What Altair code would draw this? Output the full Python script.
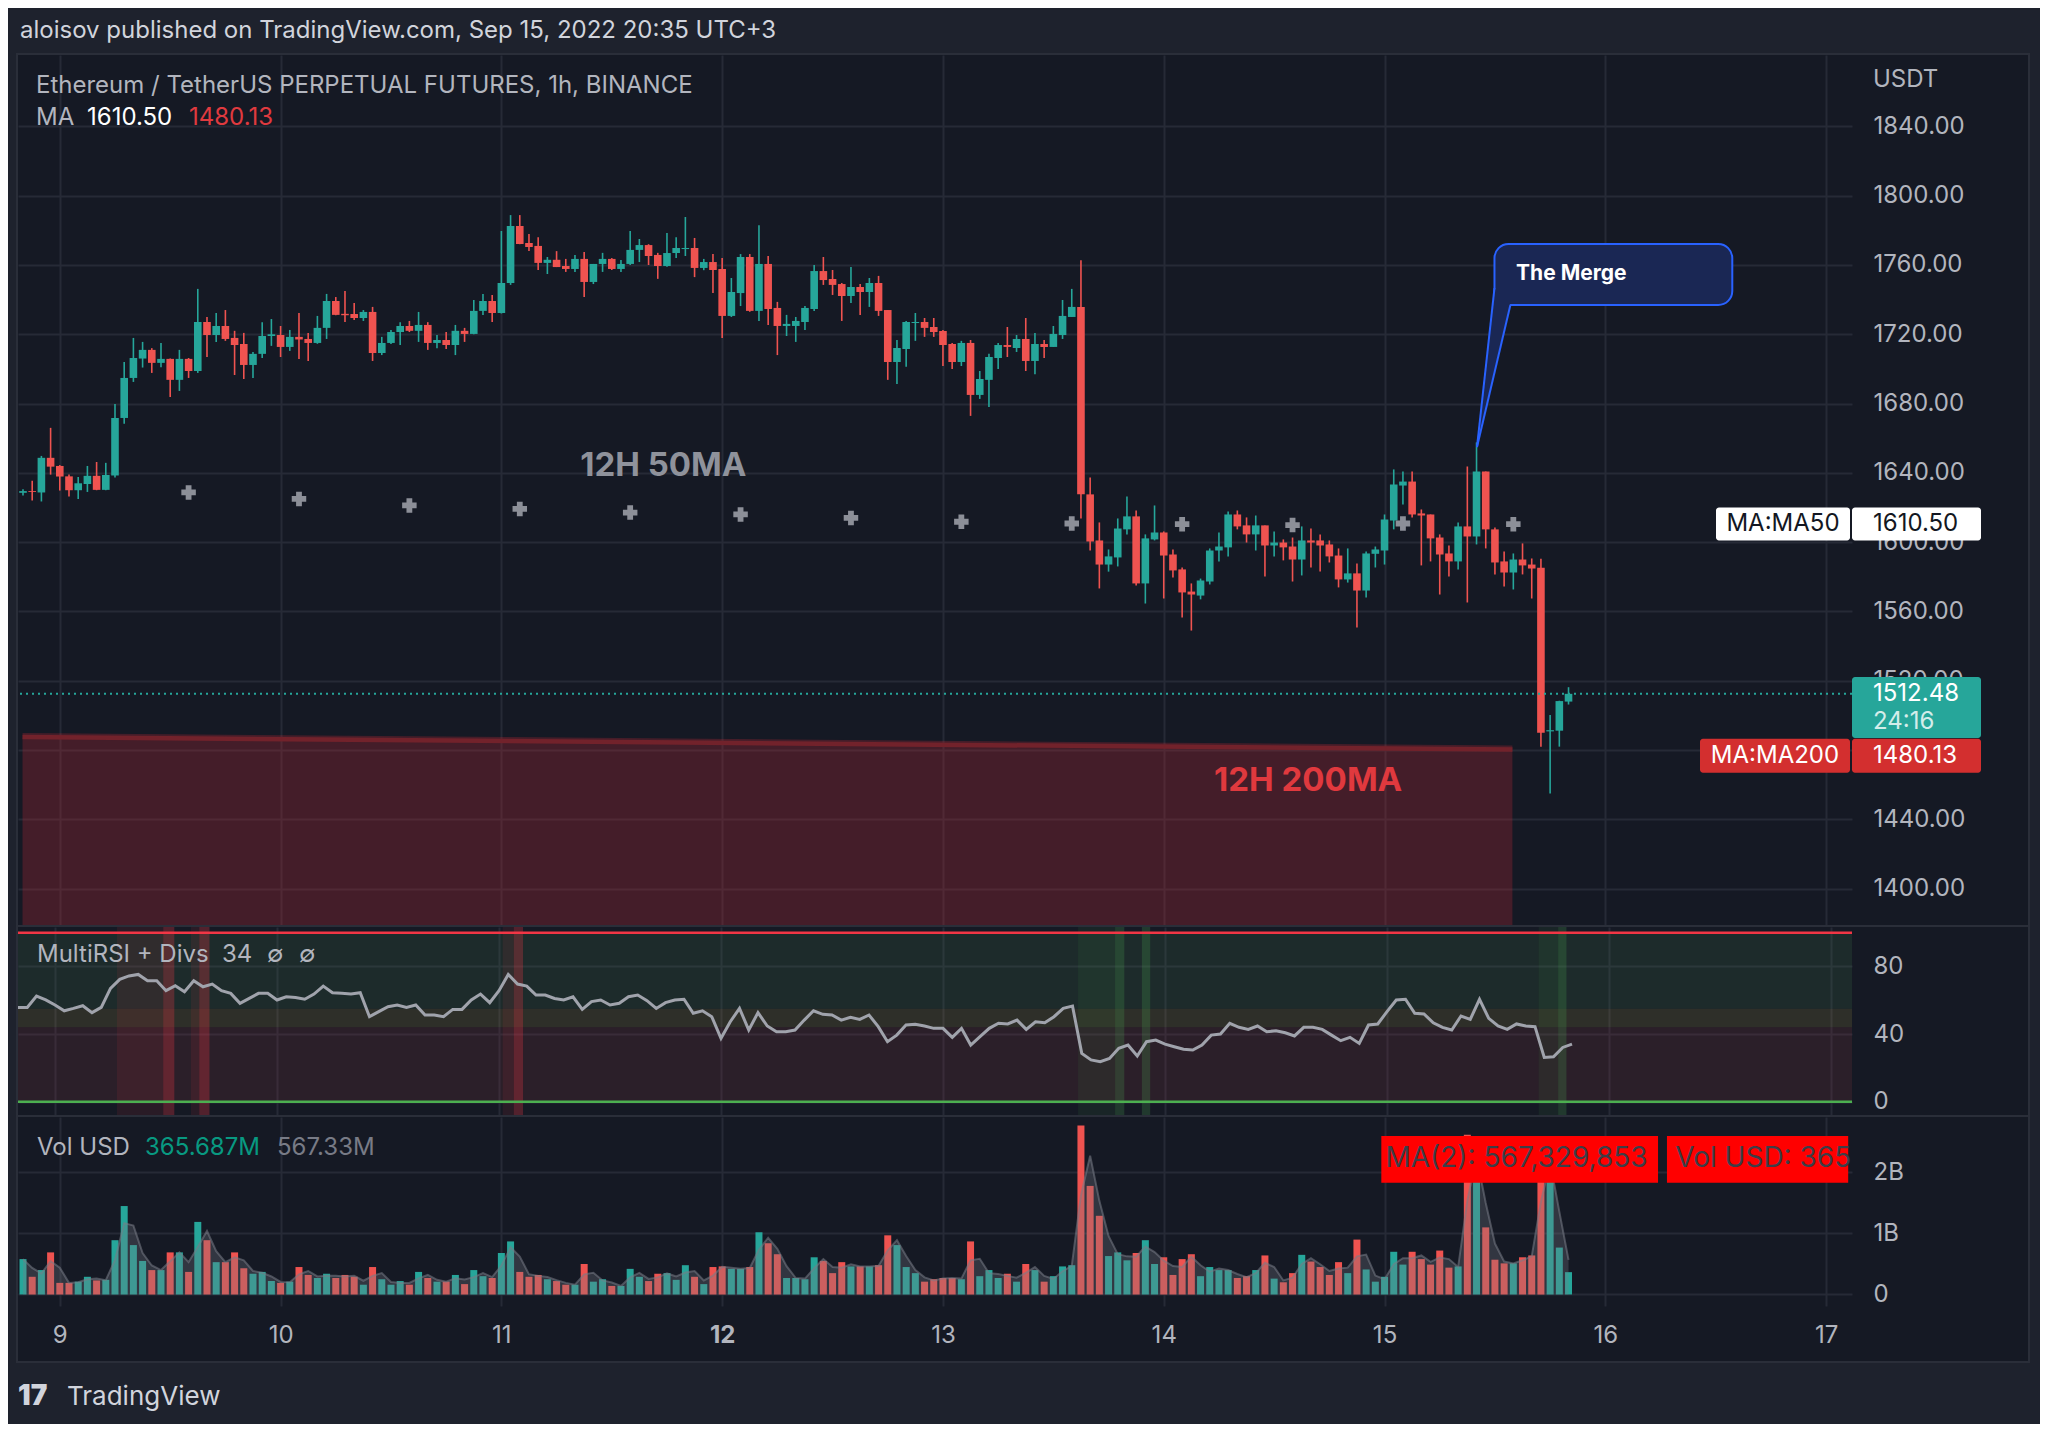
import altair as alt
import pandas as pd

FONT = "Inter"

# ---------------------------------------------------------------- data
# 1h candles, hour index counted from Sep 9 00:00 (UTC+3); first candle = -4
FIRST_HOUR = -4
OPEN = [
    1628.5, 1629.5, 1628.7, 1648.7, 1644.0, 1638.0, 1630.0, 1633.6, 1638.3, 1630.2, 1638.5, 1671.7,
    1694.8, 1706.0, 1711.0, 1703.5, 1705.8, 1693.7, 1705.8, 1698.8, 1727.1, 1719.6, 1724.8, 1717.9,
    1714.4, 1702.3, 1708.7, 1719.0, 1719.6, 1712.7, 1718.5, 1717.3, 1715.0, 1723.7, 1739.2, 1731.8,
    1731.7, 1729.4, 1732.9, 1709.2, 1715.0, 1721.3, 1724.8, 1722.0, 1725.4, 1715.0, 1716.7, 1713.8,
    1722.0, 1720.2, 1733.5, 1739.2, 1732.3, 1749.6, 1782.5, 1772.7, 1771.0, 1761.2, 1763.0, 1759.4,
    1757.7, 1763.5, 1750.2, 1760.6, 1763.5, 1757.7, 1760.6, 1768.7, 1771.5, 1765.8, 1759.4, 1766.9,
    1769.2, 1769.8, 1758.3, 1761.7, 1757.7, 1730.6, 1743.8, 1764.6, 1733.5, 1760.6, 1735.2, 1724.8,
    1724.8, 1727.1, 1734.6, 1756.5, 1751.9, 1749.0, 1742.1, 1747.3, 1744.4, 1749.6, 1734.0, 1704.0,
    1711.5, 1726.5, 1727.1, 1724.2, 1721.9, 1714.4, 1704.0, 1715.0, 1685.0, 1693.7, 1706.3, 1713.8,
    1712.1, 1717.3, 1704.6, 1714.4, 1712.7, 1719.6, 1730.0, 1735.8, 1627.6, 1601.0, 1587.1, 1591.2,
    1607.4, 1614.9, 1576.2, 1601.6, 1605.6, 1592.9, 1584.3, 1571.5, 1569.2, 1577.3, 1595.2, 1597.0,
    1616.0, 1609.7, 1604.5, 1609.7, 1598.1, 1599.8, 1597.5, 1590.0, 1601.0, 1601.0, 1598.7, 1592.3,
    1578.5, 1582.0, 1572.1, 1593.3, 1595.2, 1612.5, 1632.7, 1635.0, 1616.6, 1616.0, 1602.7, 1593.5,
    1588.9, 1609.1, 1603.3, 1640.8, 1607.4, 1588.9, 1582.5, 1590.0, 1587.1, 1585.2, 1490.8, 1491.2, 1508.0,
]
HIGH = [
    1630.5, 1635.4, 1649.8, 1666.0, 1644.5, 1639.0, 1637.7, 1644.0, 1646.3, 1645.8, 1679.8, 1704.0,
    1717.9, 1715.6, 1712.0, 1715.0, 1706.0, 1711.0, 1706.3, 1746.2, 1730.0, 1732.3, 1734.0, 1722.0,
    1720.8, 1709.8, 1727.0, 1728.8, 1724.8, 1722.5, 1732.3, 1720.8, 1730.6, 1743.3, 1741.5, 1745.0,
    1738.0, 1734.0, 1735.8, 1718.5, 1722.5, 1727.0, 1727.7, 1732.9, 1727.0, 1719.6, 1721.3, 1725.4,
    1723.7, 1739.8, 1743.3, 1742.7, 1779.6, 1788.8, 1788.8, 1777.9, 1776.0, 1764.6, 1768.0, 1763.5,
    1765.8, 1767.5, 1760.6, 1767.0, 1764.0, 1762.9, 1779.6, 1775.0, 1772.0, 1767.0, 1778.5, 1776.0,
    1787.7, 1775.6, 1763.5, 1766.3, 1764.0, 1752.5, 1766.3, 1766.3, 1783.0, 1765.2, 1738.7, 1731.2,
    1730.0, 1736.3, 1760.0, 1764.6, 1757.1, 1749.6, 1758.8, 1749.0, 1752.5, 1753.7, 1734.0, 1716.7,
    1727.7, 1732.3, 1729.4, 1729.4, 1722.5, 1715.0, 1716.2, 1716.7, 1698.8, 1708.7, 1715.0, 1724.2,
    1719.6, 1729.4, 1720.8, 1716.7, 1724.8, 1739.8, 1746.2, 1762.7, 1637.4, 1611.4, 1595.8, 1613.7,
    1626.4, 1618.3, 1604.5, 1621.2, 1606.2, 1595.8, 1585.4, 1576.2, 1579.0, 1596.4, 1605.6, 1617.7,
    1618.3, 1614.3, 1615.4, 1609.7, 1606.2, 1601.6, 1602.7, 1609.1, 1607.9, 1604.5, 1601.0, 1596.4,
    1596.4, 1587.7, 1594.6, 1597.5, 1616.0, 1642.0, 1640.8, 1640.8, 1618.9, 1616.0, 1604.5, 1598.1,
    1611.4, 1643.7, 1657.6, 1640.8, 1608.5, 1594.6, 1593.5, 1599.3, 1590.6, 1590.4, 1500.2, 1508.5, 1516.3,
]
LOW = [
    1627.0, 1624.0, 1623.5, 1639.0, 1629.8, 1626.4, 1625.0, 1629.0, 1630.0, 1630.0, 1637.3, 1668.3,
    1692.5, 1700.8, 1697.7, 1701.0, 1683.8, 1687.3, 1694.8, 1697.7, 1706.9, 1715.6, 1716.2, 1696.5,
    1694.2, 1694.8, 1706.3, 1713.3, 1706.9, 1710.4, 1705.8, 1704.6, 1714.5, 1717.3, 1731.0, 1727.1,
    1728.3, 1727.7, 1704.6, 1708.0, 1714.4, 1713.8, 1721.3, 1715.6, 1711.0, 1712.0, 1711.5, 1708.0,
    1715.6, 1720.0, 1731.2, 1727.1, 1732.0, 1748.5, 1772.0, 1768.0, 1757.1, 1754.8, 1758.8, 1756.0,
    1756.0, 1741.5, 1749.0, 1756.0, 1757.1, 1756.0, 1760.0, 1761.7, 1760.0, 1752.0, 1759.0, 1764.0,
    1765.2, 1753.0, 1757.0, 1743.8, 1717.9, 1730.0, 1736.3, 1733.0, 1727.7, 1725.4, 1708.0, 1719.0,
    1715.6, 1722.5, 1733.5, 1748.5, 1742.7, 1727.7, 1738.1, 1731.2, 1735.8, 1730.6, 1693.7, 1691.3,
    1701.2, 1716.2, 1718.5, 1718.5, 1701.7, 1700.0, 1701.7, 1672.9, 1682.7, 1678.0, 1700.0, 1706.9,
    1709.8, 1698.8, 1697.0, 1706.3, 1712.7, 1717.3, 1730.0, 1613.7, 1595.2, 1573.3, 1583.0, 1586.0,
    1604.5, 1575.0, 1564.6, 1601.0, 1567.5, 1579.6, 1556.5, 1549.0, 1567.0, 1575.6, 1588.9, 1591.8,
    1607.4, 1599.8, 1595.2, 1580.2, 1591.8, 1589.5, 1577.3, 1580.8, 1585.4, 1583.1, 1588.3, 1573.9,
    1576.7, 1550.8, 1568.1, 1585.4, 1587.1, 1607.4, 1621.8, 1614.3, 1586.6, 1588.9, 1569.8, 1580.2,
    1584.3, 1565.2, 1598.7, 1596.4, 1581.4, 1574.4, 1572.7, 1581.4, 1567.5, 1482.0, 1455.0, 1482.0, 1506.3,
]
CLOSE = [
    1629.5, 1629.0, 1648.7, 1643.6, 1637.9, 1630.0, 1634.0, 1638.3, 1630.2, 1638.8, 1671.7, 1694.8,
    1706.3, 1711.0, 1703.5, 1705.8, 1693.7, 1705.8, 1698.8, 1727.1, 1719.6, 1724.8, 1717.3, 1713.8,
    1702.3, 1708.7, 1719.0, 1720.0, 1712.7, 1718.5, 1717.0, 1715.0, 1723.7, 1739.2, 1731.2, 1731.0,
    1729.4, 1732.9, 1709.2, 1715.0, 1721.3, 1724.8, 1722.0, 1725.4, 1715.0, 1716.7, 1713.8, 1722.0,
    1720.2, 1733.5, 1739.2, 1732.3, 1749.6, 1782.5, 1772.1, 1770.4, 1761.2, 1763.0, 1758.8, 1757.7,
    1763.5, 1750.2, 1760.6, 1763.5, 1757.7, 1760.6, 1768.7, 1771.5, 1765.2, 1759.4, 1766.9, 1769.8,
    1769.8, 1758.3, 1761.7, 1757.1, 1730.6, 1744.4, 1764.6, 1733.5, 1760.6, 1734.6, 1724.8, 1726.0,
    1727.7, 1735.2, 1756.5, 1751.3, 1748.5, 1742.1, 1747.3, 1744.4, 1749.6, 1733.5, 1704.0, 1712.1,
    1727.1, 1727.1, 1723.7, 1721.3, 1713.8, 1704.0, 1715.0, 1685.0, 1694.2, 1706.9, 1713.8, 1712.7,
    1717.3, 1704.6, 1714.4, 1712.7, 1720.2, 1730.6, 1735.8, 1627.6, 1600.4, 1587.1, 1591.8, 1607.9,
    1614.9, 1576.2, 1602.2, 1605.6, 1592.3, 1583.7, 1571.0, 1569.8, 1577.9, 1595.2, 1597.5, 1616.0,
    1609.1, 1604.5, 1609.7, 1598.1, 1599.8, 1597.0, 1590.0, 1601.0, 1599.8, 1598.1, 1591.8, 1578.5,
    1582.0, 1572.1, 1593.5, 1595.8, 1613.1, 1633.3, 1635.0, 1616.0, 1615.4, 1602.2, 1592.9, 1588.9,
    1609.1, 1603.3, 1640.8, 1607.4, 1588.3, 1582.5, 1590.0, 1586.6, 1584.8, 1490.0, 1491.5, 1508.3, 1512.48,
]
VOLUME_B = [  # volume, billions of USD
    0.58, 0.29, 0.40, 0.69, 0.19, 0.19, 0.21, 0.29, 0.23, 0.24, 0.89, 1.45,
    0.81, 0.55, 0.40, 0.40, 0.69, 0.69, 0.37, 1.19, 0.89, 0.53, 0.53, 0.69,
    0.43, 0.34, 0.37, 0.22, 0.19, 0.21, 0.45, 0.32, 0.27, 0.34, 0.27, 0.32,
    0.29, 0.16, 0.45, 0.25, 0.16, 0.22, 0.16, 0.37, 0.27, 0.21, 0.21, 0.32,
    0.17, 0.40, 0.30, 0.27, 0.68, 0.87, 0.37, 0.29, 0.32, 0.25, 0.22, 0.16,
    0.16, 0.50, 0.21, 0.25, 0.14, 0.14, 0.42, 0.29, 0.22, 0.34, 0.35, 0.24,
    0.48, 0.29, 0.17, 0.45, 0.46, 0.42, 0.42, 0.45, 1.02, 0.84, 0.66, 0.27,
    0.27, 0.25, 0.61, 0.55, 0.35, 0.53, 0.46, 0.46, 0.46, 0.48, 0.97, 0.81,
    0.45, 0.35, 0.21, 0.25, 0.27, 0.27, 0.25, 0.87, 0.30, 0.40, 0.27, 0.34,
    0.21, 0.50, 0.40, 0.21, 0.30, 0.46, 0.48, 2.77, 1.78, 1.29, 0.63, 0.69,
    0.56, 0.68, 0.89, 0.50, 0.61, 0.32, 0.58, 0.66, 0.30, 0.45, 0.40, 0.40,
    0.27, 0.30, 0.40, 0.64, 0.26, 0.20, 0.35, 0.65, 0.54, 0.45, 0.32, 0.53,
    0.35, 0.90, 0.41, 0.21, 0.29, 0.70, 0.49, 0.70, 0.58, 0.49, 0.72, 0.44,
    0.46, 2.62, 1.90, 1.10, 0.57, 0.51, 0.51, 0.61, 0.64, 2.40, 1.95, 0.769, 0.366,
]
RSI = [
    55.8, 55.8, 62.5, 60.2, 57.2, 53.8, 55.2, 56.8, 52.7, 55.8, 67.1, 72.4,
    74.4, 75.3, 71.6, 71.6, 65.7, 68.6, 65.1, 71.6, 68.0, 69.6, 65.7, 64.1,
    58.2, 61.1, 64.1, 64.1, 60.2, 62.1, 61.7, 60.6, 63.7, 68.4, 64.5, 64.1,
    63.7, 64.5, 50.3, 53.3, 56.2, 57.2, 55.8, 57.2, 51.3, 51.3, 50.3, 54.6,
    54.6, 60.2, 63.7, 58.6, 65.7, 75.3, 69.6, 68.4, 63.1, 63.1, 61.1, 60.2,
    62.1, 54.6, 59.2, 60.2, 57.2, 58.2, 62.1, 63.1, 59.8, 55.2, 58.6, 60.2,
    60.6, 52.3, 53.8, 50.3, 37.5, 47.3, 55.2, 42.4, 52.7, 44.8, 41.4, 41.4,
    42.4, 48.3, 53.8, 51.7, 51.3, 48.3, 49.9, 48.7, 51.3, 44.4, 35.5, 39.4,
    45.4, 45.8, 44.8, 43.4, 43.4, 38.1, 43.4, 33.5, 38.5, 43.4, 46.4, 46.0,
    48.3, 42.8, 47.3, 46.7, 50.3, 55.2, 56.6, 28.6, 24.7, 23.7, 25.6, 31.6,
    33.5, 27.0, 35.5, 36.5, 34.1, 32.5, 31.0, 30.6, 33.5, 39.4, 40.0, 46.4,
    44.0, 42.8, 44.8, 41.4, 42.0, 40.8, 38.9, 44.0, 44.0, 42.8, 39.4, 36.1,
    38.1, 34.5, 45.4, 46.0, 53.3, 60.2, 60.6, 52.3, 51.9, 46.7, 44.0, 42.4,
    50.7, 48.7, 60.6, 49.3, 44.8, 42.8, 46.0, 44.8, 44.4, 26.2, 26.6, 32.1, 34.1,
]
HOURS = list(range(FIRST_HOUR, FIRST_HOUR + len(OPEN)))

MA50_12H_HOURS = [14, 26, 38, 50, 62, 74, 86, 98, 110, 122, 134, 146, 158]
MA50_12H = [1628.7, 1625.0, 1621.2, 1619.2, 1617.1, 1616.0, 1614.0, 1611.8,
            1610.8, 1610.4, 1609.9, 1610.8, 1610.4]
MA200_12H_HOURS = [-4.05, 157.9]
MA200_12H = [1487.6, 1480.3]

DIV_START = [6.7, 11.7, 14.7, 15.6, 48.4, 49.6, 110.6, 114.6, 117.5, 160.4, 162.5]
DIV_END = [11.7, 12.9, 15.6, 16.7, 49.6, 50.6, 114.6, 115.6, 118.4, 162.5, 163.4]
DIV_KIND = ["bear", "bear", "bear", "bear", "bear", "bear", "bull", "bull", "bull", "bull", "bull"]
DIV_ALPHA = [0.09, 0.28, 0.09, 0.28, 0.09, 0.28, 0.08, 0.22, 0.22, 0.08, 0.22]

RSI_ZONE_LO = [0, 44, 55]
RSI_ZONE_HI = [44, 55, 100]
RSI_ZONE_COLOR = ["#883742", "#978742", "#42734c"]

DAY_TICKS = [0, 24, 48, 72, 96, 120, 144, 168, 192]
DAY_LABELS = ["9", "10", "11", "12", "13", "14", "15", "16", "17"]
PRICE_TICKS = [1400, 1440, 1480, 1520, 1560, 1600, 1640, 1680, 1720, 1760, 1800, 1840]
PRICE_TICKS_HIDDEN = [1480]          # covered by the MA:MA200 price tag
RSI_TICKS = [0, 40, 80]
VOL_TICKS = [0, 1, 2]
VOL_TICK_LABELS = ["0", "1B", "2B"]

LAST_PRICE = 1512.48
MA50_NOW = 1610.50
MA200_NOW = 1480.13

# ---------------------------------------------------------------- style
BG = "#151924"
OUTER = "#1e222d"
BORDER = "#2a2e39"
GRID = "#262a36"
TXT = "#d1d4dc"
TXT2 = "#b2b5be"
UP = "#26a69a"
DOWN = "#ef5350"
VOL_UP = "#0b796a"
VOL_DOWN = "#b02d3b"
FS = 24
W, PH, RH, VH = 1834, 870, 188, 189

XS = alt.Scale(domain=[-4.0, 194.27], nice=False, zero=False)
PS = alt.Scale(domain=[1379.05, 1881.2], nice=False, zero=False)
RS = alt.Scale(domain=[-7.87, 103.37], nice=False, zero=False)
VS = alt.Scale(domain=[-0.189, 2.91], nice=False, zero=False)

cdf = pd.DataFrame({"h": HOURS, "open": OPEN, "high": HIGH, "low": LOW,
                    "close": CLOSE, "vol": VOLUME_B, "rsi": RSI})
cdf["dir"] = ["up" if c >= o else "down" for o, c in zip(OPEN, CLOSE)]
ONE = pd.DataFrame({"k": [0]})


def expr_map(ticks, labels):
    e = "''"
    for t, l in reversed(list(zip(ticks, labels))):
        e = f"datum.value == {t} ? '{l}' : " + e
    return e


def px_rect(x, x2, y, y2, **mk):
    return alt.Chart(ONE).mark_rect(**mk).encode(
        x=alt.value(x), x2=alt.value(x2), y=alt.value(y), y2=alt.value(y2))


def px_text(txt, x, y, size=FS, color=TXT2, **mk):
    return alt.Chart(ONE).mark_text(text=txt, align=mk.pop("align", "left"), baseline="middle",
                                    font=FONT, fontSize=size, color=color, **mk).encode(
        x=alt.value(x), y=alt.value(y))


xgrid = alt.Axis(values=DAY_TICKS, labels=False, ticks=False, domain=False, grid=True,
                 gridColor=GRID, gridWidth=2, title=None)


def right_axis(values, fmt=None, expr=None):
    kw = dict(orient="right", values=values, labelAlign="left", labelBaseline="middle",
              labelPadding=21, labelFontSize=FS, labelColor=TXT2, labelFont=FONT,
              domain=False, ticks=False, grid=True, gridColor=GRID, gridWidth=2,
              title=None, labelOverlap=False, labelFlush=False)
    if fmt:
        kw["format"] = fmt
    if expr:
        kw["labelExpr"] = expr
    return alt.Axis(**kw)


price_label_expr = " || ".join(f"datum.value == {v}" for v in PRICE_TICKS_HIDDEN) + \
    " ? '' : format(datum.value, '.2f')"

dir_color = alt.Color("dir:N", scale=alt.Scale(domain=["up", "down"], range=[UP, DOWN]), legend=None)

# ---------------------------------------------------------------- price pane
frame = [
    px_rect(-10, 2022, -47, 0, color=OUTER),
    px_rect(-10, 2022, 1306, 1369, color=OUTER),
    px_rect(-10, 0, -47, 1369, color=OUTER),
    px_rect(2010, 2022, -47, 1369, color=OUTER),
]

wicks = alt.Chart(cdf).mark_rule(strokeWidth=1.6, clip=True).encode(
    x=alt.X("h:Q", scale=XS, axis=xgrid),
    y=alt.Y("low:Q", scale=PS, axis=right_axis(PRICE_TICKS, expr=price_label_expr)),
    y2="high:Q", color=dir_color)
bodies = alt.Chart(cdf).mark_bar(size=7.6, clip=True).encode(
    x=alt.X("h:Q", scale=XS), y=alt.Y("open:Q", scale=PS), y2="close:Q", color=dir_color)

ma200df = pd.DataFrame({"h": MA200_12H_HOURS, "p": MA200_12H})
ma200df["top"] = ma200df["p"] + 2.3
ma200_area = alt.Chart(ma200df).mark_area(color="#b22834", opacity=0.3, clip=True).encode(
    x=alt.X("h:Q", scale=XS), y=alt.Y("top:Q", scale=PS), y2=alt.value(PH))
ma200_line = alt.Chart(ma200df).mark_line(color="#72222b", strokeWidth=4.5, clip=True).encode(
    x=alt.X("h:Q", scale=XS), y=alt.Y("p:Q", scale=PS))

last_line = alt.Chart(ONE).mark_rule(color=UP, strokeWidth=2, strokeDash=[2, 4]).encode(
    y=alt.YDatum(LAST_PRICE, scale=PS))

ma50df = pd.DataFrame({"h": MA50_12H_HOURS, "p": MA50_12H})
ma50_pts = alt.Chart(ma50df).mark_point(shape="cross", filled=True, size=210, color="#8c8f98",
                                        opacity=1, clip=True).encode(
    x=alt.X("h:Q", scale=XS), y=alt.Y("p:Q", scale=PS))

lbl_df = pd.DataFrame({"h": [65.6, 135.7], "p": [1644.0, 1462.1],
                       "t": ["12H 50MA", "12H 200MA"], "c": ["#8f929b", "#e0393e"]})
ma_labels = alt.Chart(lbl_df).mark_text(font=FONT, fontSize=33, fontWeight="bold",
                                        align="center", baseline="middle").encode(
    x=alt.X("h:Q", scale=XS), y=alt.Y("p:Q", scale=PS),
    text="t:N", color=alt.Color("c:N", scale=None))

# "The Merge" callout, anchored in chart coordinates
box = alt.Chart(ONE).mark_rect(fill="#1a2754", stroke="#2962ff", strokeWidth=2,
                               cornerRadius=14).encode(
    x=alt.XDatum(155.95, scale=XS), x2=alt.X2Datum(181.8),
    y=alt.YDatum(1772.1, scale=PS), y2=alt.Y2Datum(1736.9))
tail_df = pd.DataFrame({"h": [154.05, 155.95, 157.68], "top": [1654.9, 1746.6, 1736.9],
                        "bot": [1654.9, 1697.8, 1736.9]})
tail = alt.Chart(tail_df).mark_area(color="#1a2754", opacity=1).encode(
    x=alt.X("h:Q", scale=XS), y=alt.Y("top:Q", scale=PS), y2="bot:Q")
tail_lines_df = pd.DataFrame({"h": [154.05, 155.95, 154.05, 157.68],
                              "p": [1654.9, 1746.6, 1654.9, 1736.9], "g": [0, 0, 1, 1]})
tail_lines = alt.Chart(tail_lines_df).mark_line(color="#2962ff", strokeWidth=2).encode(
    x=alt.X("h:Q", scale=XS), y=alt.Y("p:Q", scale=PS), detail="g:N")
merge_txt = alt.Chart(ONE).mark_text(text="The Merge", font=FONT, fontSize=21, fontWeight="bold",
                                     color="#ffffff", align="left", baseline="middle").encode(
    x=alt.XDatum(158.3, scale=XS), y=alt.YDatum(1754.6, scale=PS))


def price_tag(value, x, x2, fill, y_off, y2_off, radius=3):
    return alt.Chart(ONE).mark_rect(fill=fill, cornerRadius=radius, yOffset=y_off,
                                    y2Offset=y2_off).encode(
        x=alt.value(x), x2=alt.value(x2),
        y=alt.YDatum(value, scale=PS), y2=alt.Y2Datum(value))


def tag_text(txt, value, x, color, align="left", y_off=0, opacity=1.0):
    return alt.Chart(ONE).mark_text(text=txt, font=FONT, fontSize=FS, color=color, align=align,
                                    baseline="middle", yOffset=y_off, opacity=opacity).encode(
        x=alt.value(x), y=alt.YDatum(value, scale=PS))


tags = [
    price_tag(MA50_NOW, 1698, 1832, "#ffffff", -16.5, 16.5),
    price_tag(MA50_NOW, 1834, 1963, "#ffffff", -16.5, 16.5),
    tag_text("MA:MA50", MA50_NOW, 1765, "#131722", align="center"),
    tag_text(f"{MA50_NOW:.2f}", MA50_NOW, 1855, "#131722"),
    price_tag(LAST_PRICE, 1834, 1963, UP, -16.8, 44.2),
    tag_text(f"{LAST_PRICE:.2f}", LAST_PRICE, 1855, "#ffffff"),
    tag_text("24:16", LAST_PRICE, 1855, "#ffffff", y_off=28, opacity=0.8),
    price_tag(MA200_NOW, 1682, 1832, "#d32f2f", -11, 23),
    price_tag(MA200_NOW, 1834, 1963, "#d32f2f", -11, 23),
    tag_text("MA:MA200", MA200_NOW, 1757, "#ffffff", align="center", y_off=6),
    tag_text(f"{MA200_NOW:.2f}", MA200_NOW, 1855, "#ffffff", y_off=6),
]

price_texts = [
    px_text("aloisov published on TradingView.com, Sep 15, 2022 20:35 UTC+3", 2, -24, color=TXT),
    px_text("Ethereum / TetherUS PERPETUAL FUTURES, 1h, BINANCE", 18, 31),
    px_text("MA", 18, 63),
    px_text(f"{MA50_NOW:.2f}", 69, 63, color="#ffffff"),
    px_text(f"{MA200_NOW:.2f}", 171, 63, color="#e03a3f"),
    px_text("USDT", 1855, 25),
    px_text("17", 0, 1342, size=28, color=TXT, fontWeight=900),
    px_text("TradingView", 49, 1342, size=26, color=TXT),
]

border = px_rect(-1, 2011, -1, 1307, filled=False, stroke=BORDER, strokeWidth=2)
sep1 = px_rect(0, 2010, 870, 872, color=BORDER)

price = alt.layer(
    wicks, *frame, ma200_area, ma200_line, bodies, last_line, ma50_pts, ma_labels,
    box, tail, tail_lines, merge_txt, *tags, *price_texts, sep1, border,
).properties(width=W, height=PH)

# ---------------------------------------------------------------- RSI pane
zones = pd.DataFrame({"lo": RSI_ZONE_LO, "hi": RSI_ZONE_HI, "c": RSI_ZONE_COLOR})
rsi_zones = alt.Chart(zones).mark_rect(opacity=0.2).encode(
    x=alt.value(0), x2=alt.value(W),
    y=alt.Y("lo:Q", scale=RS, axis=right_axis(RSI_TICKS)), y2="hi:Q",
    color=alt.Color("c:N", scale=None))
divdf = pd.DataFrame({"s": DIV_START, "e": DIV_END,
                      "c": ["#f23645" if k == "bear" else "#4caf50" for k in DIV_KIND],
                      "a": DIV_ALPHA})
div_bands = alt.Chart(divdf).mark_rect(clip=True).encode(
    x=alt.X("s:Q", scale=XS, axis=xgrid), x2="e:Q", y=alt.value(-4), y2=alt.value(RH),
    color=alt.Color("c:N", scale=None), opacity=alt.Opacity("a:Q", scale=None))
rsi_line = alt.Chart(cdf).mark_line(color="#a0a3ac", strokeWidth=3, clip=True).encode(
    x=alt.X("h:Q", scale=XS), y=alt.Y("rsi:Q", scale=RS))
top_line = alt.Chart(ONE).mark_rule(color="#f23645", strokeWidth=2.5).encode(
    y=alt.YDatum(100, scale=RS))
bot_line = alt.Chart(ONE).mark_rule(color="#4caf50", strokeWidth=2.5).encode(
    y=alt.YDatum(0, scale=RS))
rsi_texts = [
    px_text("MultiRSI + Divs", 19, 28),
    px_text("34", 204, 28),
    px_text("∅", 249, 28),
    px_text("∅", 281, 28),
]
sep2 = px_rect(0, 2010, RH, RH + 2, color=BORDER)
rsi = alt.layer(rsi_zones, div_bands, rsi_line, top_line, bot_line, *rsi_texts, sep2).properties(
    width=W, height=RH)

# ---------------------------------------------------------------- volume pane
vol_x_axis = alt.Axis(
    values=DAY_TICKS, labelExpr=expr_map(DAY_TICKS, DAY_LABELS), labelFontSize=FS,
    labelColor=TXT2, labelFont=FONT, labelBaseline="middle", labelPadding=29, ticks=False,
    domain=False, grid=True, gridColor=GRID, gridWidth=2, title=None,
    labelOverlap=False, labelFlush=False, orient="bottom",
    labelFontWeight={"condition": {"test": "datum.value == 72", "value": "bold"}, "value": "normal"})
vol_bars = alt.Chart(cdf).mark_bar(size=7, clip=True).encode(
    x=alt.X("h:Q", scale=XS, axis=vol_x_axis),
    y=alt.Y("vol:Q", scale=VS,
            axis=right_axis(VOL_TICKS, expr=expr_map(VOL_TICKS, VOL_TICK_LABELS))),
    y2=alt.Y2Datum(0),
    color=alt.Color("dir:N", scale=alt.Scale(domain=["up", "down"], range=[VOL_UP, VOL_DOWN]),
                    legend=None))
vol_ma_base = alt.Chart(cdf).transform_window(
    ma="mean(vol)", frame=[-1, 0], sort=[alt.SortField("h")])
vol_ma_area = vol_ma_base.mark_area(color="#787b86", opacity=0.3, clip=True).encode(
    x=alt.X("h:Q", scale=XS), y=alt.Y("ma:Q", scale=VS), y2=alt.Y2Datum(0))
vol_ma_line = vol_ma_base.mark_line(color="#787b86", opacity=0.55, strokeWidth=2, clip=True).encode(
    x=alt.X("h:Q", scale=XS), y=alt.Y("ma:Q", scale=VS))


def vol_box(x, x2):
    return alt.Chart(ONE).mark_rect(color="#ff0000", clip=True).encode(
        x=alt.XDatum(x, scale=XS), x2=alt.X2Datum(x2),
        y=alt.YDatum(2.598, scale=VS), y2=alt.Y2Datum(1.833))


def vol_box_text(txt, x):
    return alt.Chart(ONE).mark_text(text=txt, font=FONT, fontSize=28, color="#3c3e48",
                                    align="left", baseline="middle", clip=True).encode(
        x=alt.XDatum(x, scale=XS), y=alt.YDatum(2.215, scale=VS))


vol_texts = [
    px_text("Vol USD", 19, 31),
    px_text("365.687M", 127, 31, color="#089981"),
    px_text("567.33M", 259, 31, color="#787b86"),
]
vol = alt.layer(
    vol_bars, vol_ma_area, vol_ma_line,
    vol_box(143.65, 173.73), vol_box(174.7, 194.4),
    vol_box_text("MA(2): 567,329,853", 144.1), vol_box_text("Vol USD: 365", 175.6),
    *vol_texts,
).properties(width=W, height=VH)

chart = alt.vconcat(price, rsi, vol, spacing=2, bounds="flush").properties(
    background=BG, padding=0
).configure_view(strokeWidth=0)

chart.save("out.html", embed_options={"renderer": "svg", "actions": False})
